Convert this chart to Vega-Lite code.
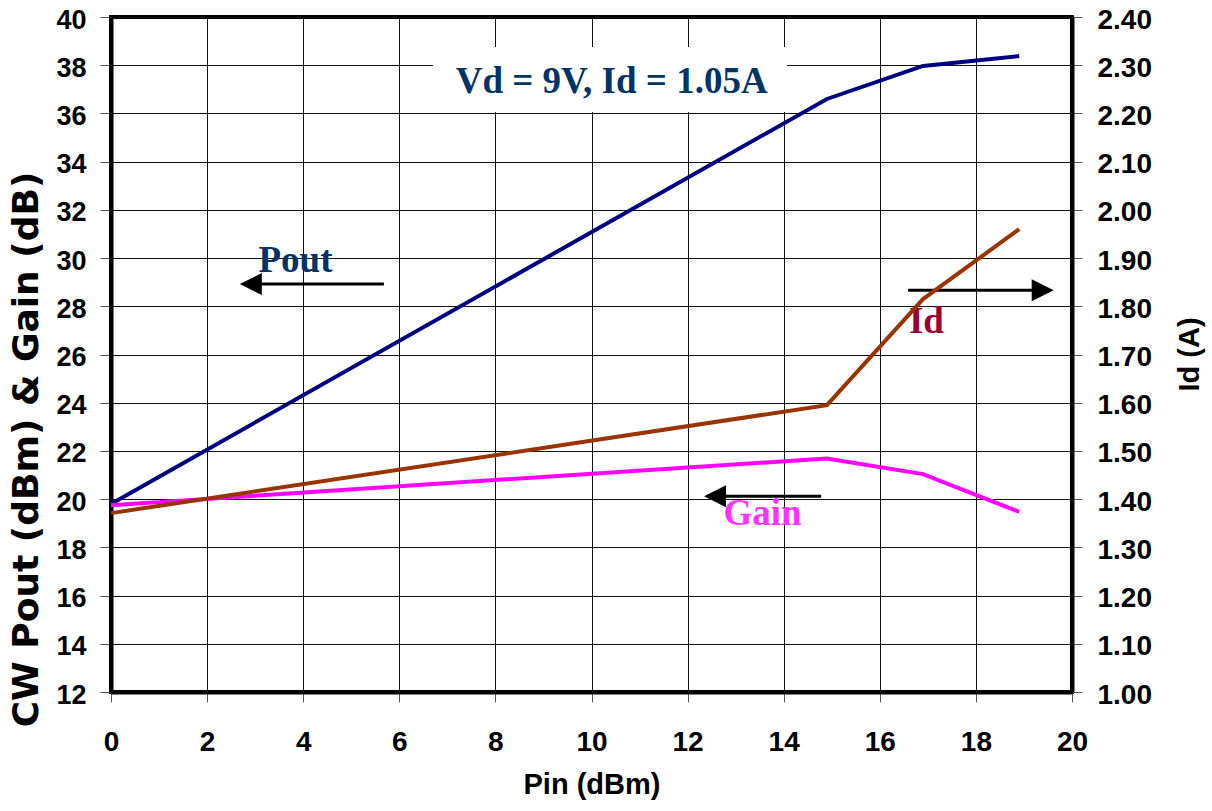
{
  "$schema": "https://vega.github.io/schema/vega-lite/v6.json",
  "width": 961,
  "height": 675,
  "autosize": {"type": "none"},
  "padding": {"left": 111, "top": 17, "right": 140, "bottom": 119},
  "background": "white",
  "config": {"view": {"stroke": "black", "strokeWidth": 4}},
  "datasets": {
    "pg": [
      {"x": 0, "y": 19.8, "s": "Pout"}, {"x": 14.9, "y": 36.6, "s": "Pout"}, {"x": 16.9, "y": 37.97, "s": "Pout"}, {"x": 18.9, "y": 38.38, "s": "Pout"},
      {"x": 0, "y": 19.75, "s": "Gain"}, {"x": 14.9, "y": 21.69, "s": "Gain"}, {"x": 16.9, "y": 21.04, "s": "Gain"}, {"x": 18.9, "y": 19.47, "s": "Gain"}
    ],
    "idline": [
      {"x": 0, "y": 1.371}, {"x": 14.9, "y": 1.595}, {"x": 16.9, "y": 1.815}, {"x": 18.9, "y": 1.96}
    ],
    "box": [{"x": 6.70, "x2": 14.07, "y": 38.76, "y2": 36.06}],
    "shafts": [
      {"x": 3.0, "x2": 5.68, "y": 28.92},
      {"x": 16.59, "x2": 19.3, "y": 28.67},
      {"x": 12.7, "x2": 14.78, "y": 20.12}
    ],
    "heads": [
      {"x": 2.91, "y": 28.92, "d": "left"},
      {"x": 19.39, "y": 28.67, "d": "right"},
      {"x": 12.57, "y": 20.12, "d": "left"}
    ],
    "navytext": [
      {"x": 10.42, "y": 36.85, "t": "Vd = 9V, Id = 1.05A"},
      {"x": 3.84, "y": 29.42, "t": "Pout"}
    ],
    "idtext": [{"x": 16.97, "y": 26.89, "t": "Id"}],
    "gaintext": [{"x": 13.56, "y": 18.92, "t": "Gain"}]
  },
  "encoding": {
    "x": {
      "field": "x", "type": "quantitative",
      "scale": {"domain": [0, 20], "nice": false, "zero": false},
      "axis": {
        "values": [0, 2, 4, 6, 8, 10, 12, 14, 16, 18, 20],
        "grid": true, "gridColor": "#111", "gridWidth": 1, "gridOpacity": 1,
        "domainColor": "black", "domainWidth": 4,
        "tickColor": "#555", "tickSize": 10, "tickWidth": 1,
        "labelFont": "Liberation Sans", "labelFontWeight": "bold", "labelFontSize": 28, "labelColor": "black",
        "labelPadding": 26, "labelFlush": false, "labelOverlap": false,
        "title": "Pin (dBm)", "titleFont": "Liberation Sans", "titleFontWeight": "bold", "titleFontSize": 29,
        "titleColor": "black", "titleY": 101, "titleBaseline": "alphabetic"
      }
    }
  },
  "layer": [
    {
      "encoding": {
        "y": {
          "field": "y", "type": "quantitative",
          "scale": {"domain": [12, 40], "nice": false, "zero": false},
          "axis": {
            "values": [12, 14, 16, 18, 20, 22, 24, 26, 28, 30, 32, 34, 36, 38, 40],
            "grid": true, "gridColor": "#111", "gridWidth": 1, "gridOpacity": 1,
            "domainColor": "black", "domainWidth": 4,
            "tickColor": "#555", "tickSize": 11, "tickWidth": 1,
            "labelFont": "Liberation Sans", "labelFontWeight": "bold", "labelFontSize": 27, "labelColor": "black",
            "labelPadding": 14, "labelOffset": 3, "labelFlush": false, "labelOverlap": false,
            "title": "CW Pout (dBm) & Gain (dB)", "titleFont": "DejaVu Sans", "titleFontWeight": "bold",
            "titleFontSize": 36, "titleColor": "black", "titleAngle": 270,
            "titleX": -74, "titleY": 432, "titleBaseline": "alphabetic", "titleAlign": "center"
          }
        }
      },
      "layer": [
        {
          "data": {"name": "box"},
          "mark": {"type": "rect", "fill": "white", "stroke": null},
          "encoding": {"x2": {"field": "x2"}, "y2": {"field": "y2"}}
        },
        {
          "data": {"name": "pg"},
          "mark": {"type": "line", "strokeWidth": 4},
          "encoding": {
            "color": {"field": "s", "type": "nominal", "scale": {"domain": ["Pout", "Gain"], "range": ["#000080", "#FF00FF"]}, "legend": null}
          }
        },
        {
          "data": {"name": "shafts"},
          "mark": {"type": "rule", "color": "black", "strokeWidth": 3},
          "encoding": {"x2": {"field": "x2"}}
        },
        {
          "data": {"name": "heads"},
          "mark": {"type": "point", "filled": true, "color": "black", "opacity": 1, "size": 484, "strokeWidth": 0},
          "encoding": {
            "shape": {"field": "d", "type": "nominal", "scale": {"domain": ["left", "right"], "range": ["M1,-1L-1,0L1,1Z", "M-1,-1L1,0L-1,1Z"]}, "legend": null}
          }
        },
        {
          "data": {"name": "navytext"},
          "mark": {"type": "text", "font": "Liberation Serif", "fontWeight": "bold", "fontSize": 37, "color": "#003366", "align": "center", "baseline": "alphabetic"},
          "encoding": {"text": {"field": "t"}}
        },
        {
          "data": {"name": "idtext"},
          "mark": {"type": "text", "font": "Liberation Serif", "fontWeight": "bold", "fontSize": 37, "color": "#990033", "align": "center", "baseline": "alphabetic"},
          "encoding": {"text": {"field": "t"}}
        },
        {
          "data": {"name": "gaintext"},
          "mark": {"type": "text", "font": "Liberation Serif", "fontWeight": "bold", "fontSize": 37, "color": "#FF33FF", "align": "center", "baseline": "alphabetic"},
          "encoding": {"text": {"field": "t"}}
        }
      ]
    },
    {
      "data": {"name": "idline"},
      "mark": {"type": "line", "strokeWidth": 4, "color": "#993300"},
      "encoding": {
        "y": {
          "field": "y", "type": "quantitative",
          "scale": {"domain": [1.0, 2.4], "nice": false, "zero": false},
          "axis": {
            "orient": "right",
            "values": [1.0, 1.1, 1.2, 1.3, 1.4, 1.5, 1.6, 1.7, 1.8, 1.9, 2.0, 2.1, 2.2, 2.3, 2.4],
            "format": ".2f", "grid": false,
            "domainColor": "black", "domainWidth": 4,
            "tickColor": "#555", "tickSize": 10, "tickWidth": 1,
            "labelFont": "Liberation Sans", "labelFontWeight": "bold", "labelFontSize": 28, "labelColor": "black",
            "labelPadding": 15, "labelOffset": 3, "labelFlush": false, "labelOverlap": false,
            "title": "Id  (A)", "titleFont": "Liberation Sans", "titleFontWeight": "bold", "titleFontSize": 29,
            "titleColor": "black", "titleAngle": 270, "titleX": 126, "titleY": 337,
            "titleBaseline": "alphabetic", "titleAlign": "center"
          }
        }
      }
    }
  ],
  "resolve": {"scale": {"y": "independent"}}
}
